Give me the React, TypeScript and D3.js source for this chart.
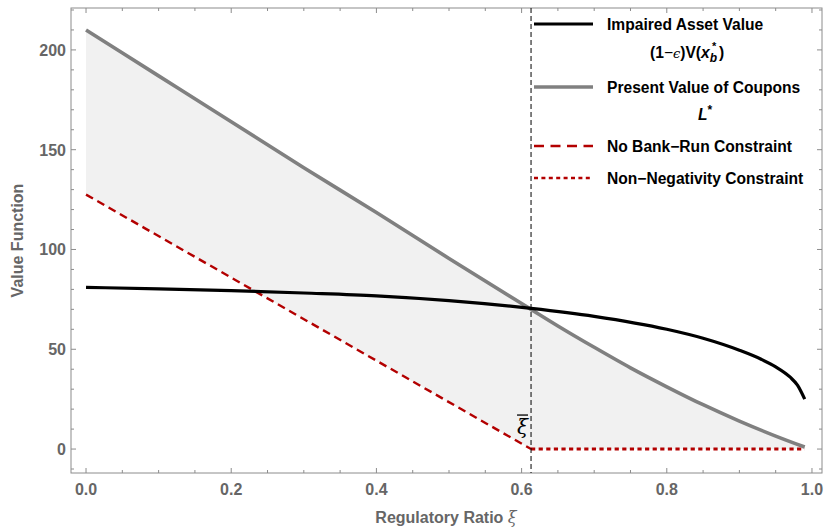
import React from "react";
import * as d3 from "d3";

// ---------- data ----------
const xiBar = 0.613;

const couponX = [0, 0.1, 0.2, 0.3, 0.4, 0.5, 0.613, 0.65, 0.7, 0.75, 0.8, 0.85, 0.9, 0.95, 0.99];
const couponY = [210, 187, 164, 141, 118.5, 95.5, 70, 61.7, 51, 40.7, 31.2, 22.2, 14, 6.5, 1];

const assetX = [0, 0.1, 0.2, 0.3, 0.4, 0.5, 0.613, 0.7, 0.8, 0.85, 0.9, 0.93, 0.95, 0.97, 0.98, 0.99];
const assetY = [81, 80.3, 79.4, 78.2, 76.8, 74.4, 70.5, 66.5, 60, 55.5, 49.5, 45, 41.2, 36, 32, 25];

const bankRunX = [0, xiBar];
const bankRunY = [127.5, 0];

const nonNegX = [xiBar, 0.99];
const nonNegY = [0, 0];

const xTicks = [0, 0.2, 0.4, 0.6, 0.8, 1.0];
const xTickLabels = ["0.0", "0.2", "0.4", "0.6", "0.8", "1.0"];
const yTicks = [0, 50, 100, 150, 200];
const yTickLabels = ["0", "50", "100", "150", "200"];

const legendLabels = [
  "Impaired Asset Value",
  "Present Value of Coupons",
  "No Bank\u2212Run Constraint",
  "Non\u2212Negativity Constraint",
];

// ---------- component ----------
const FONT = "'Liberation Sans', Arial, sans-serif";
const AXIS_GRAY = "#666666";
const FRAME_GRAY = "#8c8c8c";
const RED = "#b30000";
const COUPON_GRAY = "#808080";

function constraintAt(v: number): number {
  if (v >= xiBar) return 0;
  return bankRunY[0] + (bankRunY[1] - bankRunY[0]) * ((v - bankRunX[0]) / (bankRunX[1] - bankRunX[0]));
}

export default function App() {
  const W = 828;
  const H = 529;
  const left = 71, right = 822, top = 8, bottom = 473;
  const x = d3.scaleLinear().domain([-0.0207, 1.0138]).range([left, right]);
  const y = d3.scaleLinear().domain([-12, 221]).range([bottom, top]);

  const couponPts = couponX.map((v, i) => [v, couponY[i]] as [number, number]);
  const assetPts = assetX.map((v, i) => [v, assetY[i]] as [number, number]);

  const line = d3
    .line<[number, number]>()
    .x((d) => x(d[0]))
    .y((d) => y(d[1]))
    .curve(d3.curveMonotoneX);
  const straight = d3
    .line<[number, number]>()
    .x((d) => x(d[0]))
    .y((d) => y(d[1]));

  const area = d3
    .area<[number, number]>()
    .x((d) => x(d[0]))
    .y1((d) => y(d[1]))
    .y0((d) => y(constraintAt(d[0])))
    .curve(d3.curveLinear);

  const xMinor = d3.range(0, 1.0001, 0.05).filter((v) => !xTicks.some((t) => Math.abs(t - v) < 1e-6));
  const yMinor = d3.range(-10, 221, 10).filter((v) => !yTicks.includes(v));

  const bankPts = bankRunX.map((v, i) => [v, bankRunY[i]] as [number, number]);
  const nonNegPts = nonNegX.map((v, i) => [v, nonNegY[i]] as [number, number]);

  const majorLen = 5;
  const minorLen = 3;

  const legX0 = 534, legX1 = 593, legTextX = 607;
  const legRows = [24, 87, 146, 178];
  const legFont = 15.6;
  const tickFont = 16;

  return (
    <svg
      width={W}
      height={H}
      style={{ position: "absolute", left: 0, top: 0, display: "block", background: "#fff" }}
      fontFamily={FONT}
    >
      {/* shaded region */}
      <path d={area(couponPts) || ""} fill="#f1f1f1" stroke="none" />

      {/* frame */}
      <rect x={left} y={top} width={right - left} height={bottom - top} fill="none" stroke={FRAME_GRAY} strokeWidth={1} />

      {/* x ticks (bottom and top) */}
      {xTicks.map((t) => (
        <g key={"xt" + t}>
          <line x1={x(t)} x2={x(t)} y1={bottom} y2={bottom - majorLen} stroke={FRAME_GRAY} />
          <line x1={x(t)} x2={x(t)} y1={top} y2={top + majorLen} stroke={FRAME_GRAY} />
        </g>
      ))}
      {xMinor.map((t) => (
        <g key={"xm" + t}>
          <line x1={x(t)} x2={x(t)} y1={bottom} y2={bottom - minorLen} stroke={FRAME_GRAY} />
          <line x1={x(t)} x2={x(t)} y1={top} y2={top + minorLen} stroke={FRAME_GRAY} />
        </g>
      ))}
      {xTicks.map((t, i) => (
        <text
          key={"xl" + t}
          x={x(t)}
          y={495}
          textAnchor="middle"
          fontSize={tickFont}
          fontWeight="bold"
          fill={AXIS_GRAY}
        >
          {xTickLabels[i]}
        </text>
      ))}

      {/* y ticks (left and right) */}
      {yTicks.map((t) => (
        <g key={"yt" + t}>
          <line x1={left} x2={left + majorLen} y1={y(t)} y2={y(t)} stroke={FRAME_GRAY} />
          <line x1={right} x2={right - majorLen} y1={y(t)} y2={y(t)} stroke={FRAME_GRAY} />
        </g>
      ))}
      {yMinor.map((t) => (
        <g key={"ym" + t}>
          <line x1={left} x2={left + minorLen} y1={y(t)} y2={y(t)} stroke={FRAME_GRAY} />
          <line x1={right} x2={right - minorLen} y1={y(t)} y2={y(t)} stroke={FRAME_GRAY} />
        </g>
      ))}
      {yTicks.map((t, i) => (
        <text
          key={"yl" + t}
          x={left - 5}
          y={y(t) + 6}
          textAnchor="end"
          fontSize={tickFont}
          fontWeight="bold"
          fill={AXIS_GRAY}
        >
          {yTickLabels[i]}
        </text>
      ))}

      {/* axis titles */}
      <text x={446} y={523} textAnchor="middle" fontSize={16} fontWeight="bold" fill={AXIS_GRAY}>
        Regulatory Ratio{" "}
        <tspan fontStyle="italic" fontWeight="normal" fontFamily="'DejaVu Serif', serif">
          ξ
        </tspan>
      </text>
      <text
        transform={`translate(23, ${(top + bottom) / 2}) rotate(-90)`}
        textAnchor="middle"
        fontSize={16}
        fontWeight="bold"
        fill={AXIS_GRAY}
      >
        Value Function
      </text>

      {/* constraint lines */}
      <path d={straight(bankPts) || ""} fill="none" stroke={RED} strokeWidth={2.4} strokeDasharray="8,5" />
      <path d={straight(nonNegPts) || ""} fill="none" stroke={RED} strokeWidth={3} strokeDasharray="4.2,3.4" />

      {/* present value of coupons */}
      <path d={line(couponPts) || ""} fill="none" stroke={COUPON_GRAY} strokeWidth={3.6} />

      {/* impaired asset value */}
      <path d={line(assetPts) || ""} fill="none" stroke="#000" strokeWidth={3.2} />

      {/* xi bar vertical line */}
      <line
        x1={x(xiBar)}
        x2={x(xiBar)}
        y1={top}
        y2={bottom}
        stroke="#000"
        strokeWidth={1}
        strokeDasharray="5,3"
      />
      <text
        x={x(xiBar) - 8.5}
        y={y(0) - 15}
        textAnchor="middle"
        fontSize={20}
        fontFamily="'DejaVu Serif', serif"
        fontStyle="italic"
        fill="#000"
      >
        ξ
      </text>
      <line
        x1={x(xiBar) - 14}
        x2={x(xiBar) - 3}
        y1={y(0) - 34}
        y2={y(0) - 34}
        stroke="#000"
        strokeWidth={1.3}
      />

      {/* legend */}
      <line x1={legX0} x2={legX1} y1={legRows[0]} y2={legRows[0]} stroke="#000" strokeWidth={3.2} />
      <line x1={legX0} x2={legX1} y1={legRows[1]} y2={legRows[1]} stroke={COUPON_GRAY} strokeWidth={3.6} />
      <line x1={legX0} x2={legX1} y1={legRows[2]} y2={legRows[2]} stroke={RED} strokeWidth={2.4} strokeDasharray="10,6.5" />
      <line x1={legX0} x2={legX1} y1={legRows[3]} y2={legRows[3]} stroke={RED} strokeWidth={2.6} strokeDasharray="4,3.4" />

      {legendLabels.map((s, i) => (
        <text key={s} x={legTextX} y={legRows[i] + 5.5} fontSize={legFont} fontWeight="bold" fill="#000">
          {s}
        </text>
      ))}

      {/* (1−ϵ)V(x_b^*) */}
      <text x={650} y={58} fontSize={legFont} fontWeight="bold" fill="#000">
        (1
        <tspan fontWeight="normal">−</tspan>
        <tspan fontStyle="italic" fontWeight="normal" fontFamily="'DejaVu Serif', serif" fontSize={13}>ϵ</tspan>
        <tspan>)V(</tspan>
        <tspan fontStyle="italic">x</tspan>
        <tspan fontStyle="italic" fontSize={12} dy={4}>b</tspan>
        <tspan fontSize={11} dx={-5} dy={-12}>*</tspan>
        <tspan dx={2.5} dy={8}>)</tspan>
      </text>

      {/* L* */}
      <text x={698} y={120} fontSize={legFont} fontWeight="bold" fill="#000">
        <tspan fontStyle="italic">L</tspan>
        <tspan fontSize={12} dy={-6}>*</tspan>
      </text>
    </svg>
  );
}
